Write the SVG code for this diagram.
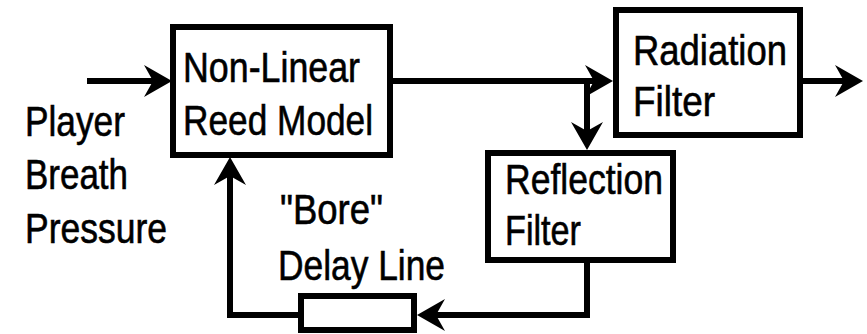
<svg xmlns="http://www.w3.org/2000/svg" width="867" height="334" viewBox="0 0 867 334">
<style>
.box{fill:#fff;stroke:#000;stroke-width:6}
.wire{fill:none;stroke:#000;stroke-width:6;stroke-linejoin:miter}
.t{font-family:"Liberation Sans",Arial,sans-serif;font-size:42px;fill:#000;stroke:#000;stroke-width:0.6}
</style>
<defs>
<marker id="arr" markerUnits="userSpaceOnUse" viewBox="-30 -18 32 36" markerWidth="32" markerHeight="36" refX="-10" refY="0" orient="auto">
<path d="M0,0 L-28,-16 L-19,0 L-28,16 Z" fill="#000"/>
</marker>
</defs>
<g id="connectors">
<path class="wire" d="M87,81 H162" marker-end="url(#arr)"/>
<path class="wire" d="M390,81 H603" marker-end="url(#arr)"/>
<path class="wire" d="M587,81 V140" marker-end="url(#arr)"/>
<path class="wire" d="M803,81 H853" marker-end="url(#arr)"/>
<path class="wire" d="M587,263 V315 H427" marker-end="url(#arr)"/>
<path class="wire" d="M299,315 H230 V167" marker-end="url(#arr)"/>
</g>
<g id="input-label">
<text class="t" x="25" y="136" textLength="100" lengthAdjust="spacingAndGlyphs">Player</text>
<text class="t" x="25" y="189" textLength="103" lengthAdjust="spacingAndGlyphs">Breath</text>
<text class="t" x="25" y="243" textLength="142" lengthAdjust="spacingAndGlyphs">Pressure</text>
</g>
<g id="reed">
<rect class="box" x="173" y="27" width="217" height="128"/>
<text class="t" x="183" y="82" textLength="177" lengthAdjust="spacingAndGlyphs">Non-Linear</text>
<text class="t" x="183" y="135" textLength="190" lengthAdjust="spacingAndGlyphs">Reed Model</text>
</g>
<g id="radiation">
<rect class="box" x="616" y="10" width="184" height="125"/>
<text class="t" x="633" y="65" textLength="154" lengthAdjust="spacingAndGlyphs">Radiation</text>
<text class="t" x="633" y="116" textLength="82" lengthAdjust="spacingAndGlyphs">Filter</text>
</g>
<g id="reflection">
<rect class="box" x="488" y="153" width="185" height="107"/>
<text class="t" x="505" y="194" textLength="158" lengthAdjust="spacingAndGlyphs">Reflection</text>
<text class="t" x="505" y="245" textLength="76" lengthAdjust="spacingAndGlyphs">Filter</text>
</g>
<g id="delay">
<rect class="box" x="301" y="296" width="113" height="34"/>
<text class="t" x="280" y="224" textLength="103" lengthAdjust="spacingAndGlyphs">"Bore"</text>
<text class="t" x="278" y="280" textLength="167" lengthAdjust="spacingAndGlyphs">Delay Line</text>
</g>
</svg>
